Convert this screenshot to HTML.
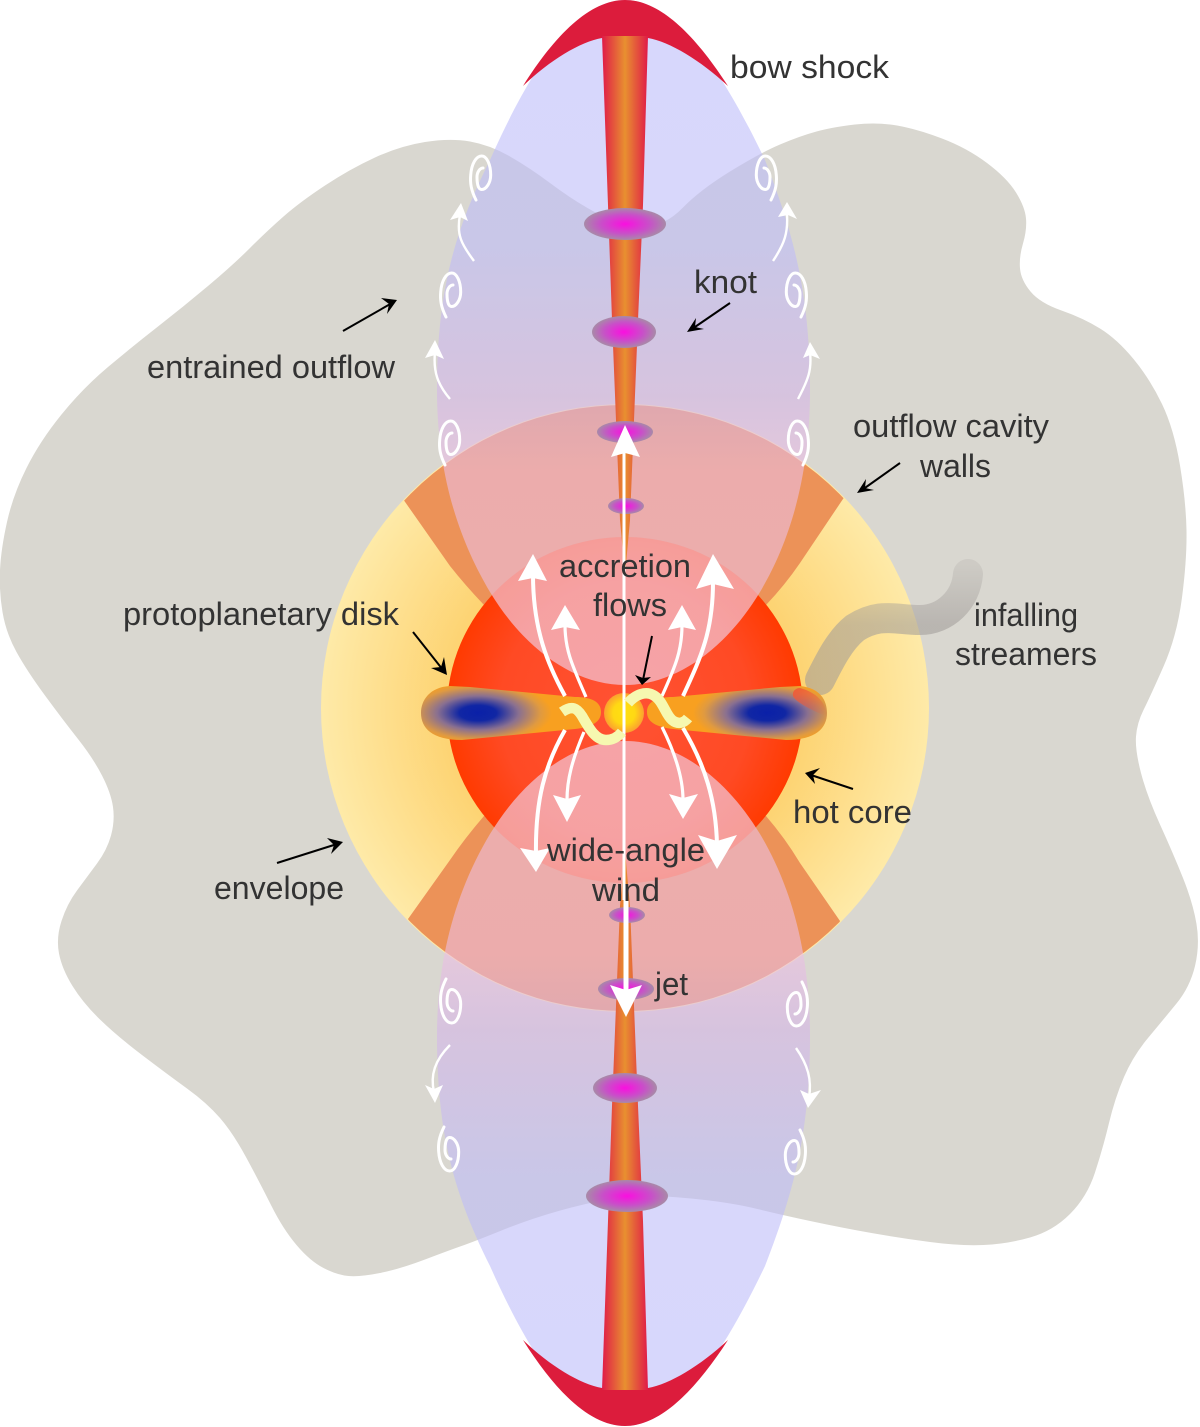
<!DOCTYPE html>
<html>
<head>
<meta charset="utf-8">
<style>
html,body{margin:0;padding:0;background:#fff;}
svg{display:block;}
text{font-family:"Liberation Sans",sans-serif;font-size:32px;fill:#333;}
</style>
</head>
<body>
<svg width="1200" height="1427" viewBox="0 0 1200 1427" xmlns="http://www.w3.org/2000/svg">
<defs>
  <radialGradient id="env" gradientUnits="userSpaceOnUse" cx="625" cy="708" r="304">
    <stop offset="0.5" stop-color="#fdcf68"/>
    <stop offset="1" stop-color="#feeaa8"/>
  </radialGradient>
  <radialGradient id="core" gradientUnits="userSpaceOnUse" cx="625" cy="710" r="178">
    <stop offset="0" stop-color="#ff5234"/>
    <stop offset="0.7" stop-color="#ff4a24"/>
    <stop offset="1" stop-color="#ff3a00"/>
  </radialGradient>
  <linearGradient id="lobe" gradientUnits="userSpaceOnUse" x1="0" y1="0" x2="0" y2="685">
    <stop offset="0" stop-color="rgb(188,188,250)"/>
    <stop offset="0.36" stop-color="rgb(190,188,248)"/>
    <stop offset="0.58" stop-color="rgb(213,182,232)"/>
    <stop offset="0.69" stop-color="rgb(236,190,228)"/>
    <stop offset="1" stop-color="rgb(236,192,228)"/>
  </linearGradient>
  <linearGradient id="jet" x1="0" y1="0" x2="1" y2="0">
    <stop offset="0" stop-color="#e01a48"/>
    <stop offset="0.5" stop-color="#e89030"/>
    <stop offset="1" stop-color="#e01a48"/>
  </linearGradient>
  <radialGradient id="knot">
    <stop offset="0" stop-color="#fa0fe0"/>
    <stop offset="0.6" stop-color="#c850c8"/>
    <stop offset="1" stop-color="#a88aa8"/>
  </radialGradient>
  <radialGradient id="diskL" gradientUnits="userSpaceOnUse" cx="0" cy="0" r="1" gradientTransform="translate(478 713) scale(74 31)">
    <stop offset="0" stop-color="#0a20a8"/>
    <stop offset="0.25" stop-color="#1026a4"/>
    <stop offset="0.55" stop-color="#8a7090"/>
    <stop offset="0.85" stop-color="#e09a40"/>
    <stop offset="1" stop-color="#f8a020"/>
  </radialGradient>
  <radialGradient id="diskR" gradientUnits="userSpaceOnUse" cx="0" cy="0" r="1" gradientTransform="translate(767 713) scale(74 31)">
    <stop offset="0" stop-color="#0a20a8"/>
    <stop offset="0.25" stop-color="#1026a4"/>
    <stop offset="0.55" stop-color="#8a7090"/>
    <stop offset="0.85" stop-color="#e09a40"/>
    <stop offset="1" stop-color="#f8a020"/>
  </radialGradient>
  <radialGradient id="star">
    <stop offset="0" stop-color="#ffe010"/>
    <stop offset="0.55" stop-color="#ffd814"/>
    <stop offset="1" stop-color="#fba030"/>
  </radialGradient>
  <linearGradient id="tip" x1="0" y1="0" x2="1" y2="1">
    <stop offset="0" stop-color="#f05a38"/>
    <stop offset="1" stop-color="#f05a38" stop-opacity="0"/>
  </linearGradient>
  <linearGradient id="stream" gradientUnits="userSpaceOnUse" x1="0" y1="565" x2="0" y2="625">
    <stop offset="0" stop-color="rgb(160,155,152)" stop-opacity="0.2"/>
    <stop offset="1" stop-color="rgb(160,155,152)" stop-opacity="0.56"/>
  </linearGradient>
  <clipPath id="envClip"><circle cx="625" cy="708" r="303"/></clipPath>
  <path id="lobeP" d="M625 0 C575 0 530 70 490 160 C455 230 437 290 437 390 C437 480 462 545 490 592 C525 650 575 685 625 685 C675 685 725 650 760 592 C788 545 810 480 810 390 C810 290 792 230 765 160 C722 70 675 0 625 0 Z"/>
  <clipPath id="lobeClip">
    <use href="#lobeP"/>
    <use href="#lobeP" transform="translate(0 1426) scale(1 -1)"/>
  </clipPath>
  <path id="shock" d="M523 86 C555 35 590 0 625 0 C660 0 695 35 728 86 C700 60 670 42 648 38 L602 38 C580 42 550 60 523 86 Z"/>
  <polygon id="jetP" points="602,36 648,36 643,205 638,320 634,420 630,520 625,575 620,520 616,420 612,320 608,205"/>
  <path id="sw" d="M6 45 C1 35 0 28 0.7 20 C1.5 9 6 1 11.7 1 C17 1 20.7 10 20.7 20 C20.7 28 16 34.5 11.7 34.5 C8 34.5 7 28 7 22 C7 17 10 13 13 13" fill="none" stroke="#fff" stroke-width="3" stroke-linecap="round"/>
</defs>

<!-- envelope -->
<path fill="#d9d7d0" d="M645 226 Q625 226 615 222 Q605 218 587.5 208 Q570 198 550 183 Q530 168 510 156.5 Q490 145 470 141.5 Q450 138 425 142 Q400 146 375 157.5 Q350 169 325 185.5 Q300 202 283.5 216.5 Q267 231 250 248 Q233 265 208 286 Q183 307 158 326.5 Q133 346 108 367 Q83 388 61.5 414.5 Q40 441 26.5 468 Q13 495 7 522 Q1 549 0 570 Q-1 591 2.5 612 Q6 633 16.5 652 Q27 671 45 695.5 Q63 720 78 739 Q93 758 102 775.5 Q111 793 113 807 Q115 821 111 835.5 Q107 850 97 863.5 Q87 877 77 890.5 Q67 904 61.5 921 Q56 938 59 953.5 Q62 969 72.5 986 Q83 1003 100 1019.5 Q117 1036 142 1055 Q167 1074 187 1088.5 Q207 1103 220 1118 Q233 1133 246.5 1158 Q260 1183 271.5 1206 Q283 1229 296.5 1245 Q310 1261 323.5 1268 Q337 1275 348.5 1276 Q360 1277 380 1273 Q400 1269 425 1259.5 Q450 1250 461.5 1246 Q473 1242 501.5 1230.5 Q530 1219 558.5 1211 Q587 1203 608.5 1199.5 Q630 1196 649 1196 Q668 1196 700.5 1199.5 Q733 1203 757.5 1209 Q782 1215 812.5 1221.5 Q843 1228 871.5 1233 Q900 1238 930 1242 Q960 1246 983.5 1245 Q1007 1244 1030 1237.5 Q1053 1231 1070 1214 Q1087 1197 1095 1172.5 Q1103 1148 1109 1123 Q1115 1098 1124 1077 Q1133 1056 1148 1038 Q1163 1020 1176.5 1003.5 Q1190 987 1195 966 Q1200 945 1196.5 924 Q1193 903 1183 878 Q1173 853 1160 824.5 Q1147 796 1141 773 Q1135 750 1136 736.5 Q1137 723 1143.5 710 Q1150 697 1163.5 666.5 Q1177 636 1182 597.5 Q1187 559 1186.5 530.5 Q1186 502 1180 465.5 Q1174 429 1162 404 Q1150 379 1133.5 359 Q1117 339 1100 328.5 Q1083 318 1061.5 310.5 Q1040 303 1030.5 291.5 Q1021 280 1020 268.5 Q1019 257 1023 243.5 Q1027 230 1026 218.5 Q1025 207 1016 192.5 Q1007 178 987 163 Q967 148 942 138.5 Q917 129 897 125.5 Q877 122 855 124.5 Q833 127 816.5 131.5 Q800 136 780 144.5 Q760 153 730 171.5 Q700 190 682.5 208 Q665 226 645 226 Z"/>

<circle cx="625" cy="708" r="304" fill="url(#env)"/>

<!-- orange cavity walls -->
<g clip-path="url(#envClip)" fill="#ec9258">
  <path d="M403 499 L450 566 Q465 585 484 605 L766 605 Q785 585 800 563 L845 496 L800 380 L450 380 Z"/>
  <path d="M408 919 L450 860 Q465 838 484 816 L766 816 Q785 838 800 863 L840 921 L800 1040 L450 1040 Z"/>
</g>

<!-- hot core -->
<ellipse cx="625" cy="710" rx="178" ry="173" fill="url(#core)"/>

<!-- streamer -->
<path d="M968 574 C966 600 945 620 920 620 C895 620 880 612 855 628 C840 640 830 660 820 680" fill="none" stroke="url(#stream)" stroke-width="30" stroke-linecap="round"/>

<!-- lobes -->
<use href="#lobeP" fill="url(#lobe)" fill-opacity="0.6"/>
<use href="#lobeP" fill="url(#lobe)" fill-opacity="0.6" transform="translate(0 1426) scale(1 -1)"/>
<g clip-path="url(#lobeClip)">
  <ellipse cx="625" cy="710" rx="178" ry="173" fill="#ffe8d0" fill-opacity="0.2"/>
</g>

<!-- bow shock -->
<use href="#shock" fill="#dc1c3c"/>
<use href="#shock" fill="#dc1c3c" transform="translate(0 1426) scale(1 -1)"/>

<!-- jets -->
<use href="#jetP" fill="url(#jet)"/>
<use href="#jetP" fill="url(#jet)" transform="translate(0 1426) scale(1 -1)"/>

<!-- knots -->
<ellipse cx="625" cy="224" rx="41" ry="16" fill="url(#knot)"/>
<ellipse cx="624" cy="332" rx="32" ry="16" fill="url(#knot)"/>
<ellipse cx="625" cy="432" rx="28" ry="11" fill="url(#knot)"/>
<ellipse cx="626" cy="506" rx="18" ry="8" fill="url(#knot)"/>
<ellipse cx="627" cy="915" rx="18" ry="8" fill="url(#knot)"/>
<ellipse cx="626" cy="989" rx="28" ry="11" fill="url(#knot)"/>
<ellipse cx="625" cy="1088" rx="32" ry="15" fill="url(#knot)"/>
<ellipse cx="627" cy="1196" rx="41" ry="16" fill="url(#knot)"/>

<!-- disk -->
<path fill="url(#diskL)" d="M450 686 C430 687 421 700 421 713 C421 728 432 740 462 740 L575 729 C592 727 601 722 601 712 C601 702 592 697 575 697 L470 687 Z"/>
<path fill="url(#diskR)" d="M800 686 C820 688 827 700 827 713 C827 728 816 740 786 740 L673 729 C656 727 647 722 647 712 C647 702 656 697 673 697 L780 687 Z"/>
<path fill="url(#tip)" d="M800 688 C815 692 827 702 826 716 C815 712 795 702 793 696 C792 691 796 688 800 688 Z"/>

<circle cx="624" cy="713" r="20" fill="url(#star)"/>

<!-- wind arrows -->
<g fill="none" stroke="#fff">
  <path stroke-width="4" d="M565 696 C548 665 533 630 533 575"/>
  <path stroke-width="3.2" d="M586 697 C572 665 565 650 565 625"/>
  <path stroke-width="3.2" d="M662 696 C676 665 682 650 682 625"/>
  <path stroke-width="4" d="M683 696 C702 655 713 630 713 582"/>
  <path stroke-width="4" d="M565 730 C545 765 535 800 536 855"/>
  <path stroke-width="3.2" d="M584 732 C572 760 567 780 567 800"/>
  <path stroke-width="3.2" d="M662 727 C676 755 683 780 683 800"/>
  <path stroke-width="4" d="M683 728 C705 765 716 800 717 845"/>
  <line stroke-width="3" x1="624" y1="450" x2="624" y2="900"/>
</g>
<line x1="626" y1="900" x2="626" y2="995" stroke="#fff" stroke-width="5"/>
<g fill="#fff">
  <polygon points="533,554 547,581 533,578 518,581"/>
  <polygon points="565,605 580,630 565,627 551,630"/>
  <polygon points="682,605 696,630 682,627 668,630"/>
  <polygon points="713,554 734,589 713,584 696,589"/>
  <polygon points="536,872 550,848 536,851 520,848"/>
  <polygon points="567,822 581,795 567,799 553,795"/>
  <polygon points="683,819 698,794 683,798 669,794"/>
  <polygon points="717,869 737,835 717,841 698,835"/>
  <polygon points="625,425 640,457 625,453 611,457"/>
  <polygon points="626,1017 642,985 626,990 610,985"/>
</g>

<!-- accretion squiggles -->
<g fill="none" stroke="#f6f8b0" stroke-width="10.5">
  <path d="M562 712 C572 705 577 708 582 716 C590 730 596 740 606 740 C612 740 618 737 622 732"/>
  <path d="M628 703 C636 694 646 691 653 695 C663 700 665 714 672 720 C678 725 684 723 688 718"/>
</g>

<!-- small swirls -->
<use href="#sw" transform="translate(470 155)"/>
<use href="#sw" transform="translate(440 272)"/>
<use href="#sw" transform="translate(439 420)"/>
<use href="#sw" transform="translate(777 155) scale(-1 1)"/>
<use href="#sw" transform="translate(807 272) scale(-1 1)"/>
<use href="#sw" transform="translate(809 420) scale(-1 1)"/>
<use href="#sw" transform="translate(440 1024) scale(1 -1)"/>
<use href="#sw" transform="translate(438 1172) scale(1 -1)"/>
<use href="#sw" transform="translate(808 1027) scale(-1 -1)"/>
<use href="#sw" transform="translate(806 1175) scale(-1 -1)"/>

<!-- small arrows -->
<g fill="none" stroke="#fff" stroke-width="2.4">
  <path d="M474 261 C462 245 456 235 460 215"/>
  <path d="M450 399 C438 385 433 372 435 352"/>
  <path d="M773 261 C785 243 788 232 787 215"/>
  <path d="M798 399 C808 380 812 370 810 352"/>
  <path d="M450 1045 C435 1060 430 1075 434 1092"/>
  <path d="M796 1048 C808 1065 812 1080 809 1098"/>
</g>
<g fill="#fff">
  <polygon points="461,203 468,221 460,217 450,220"/>
  <polygon points="435,340 444,359 435,355 425,358"/>
  <polygon points="787,202 797,219 788,215 778,217"/>
  <polygon points="810,342 820,359 810,355 803,358"/>
  <polygon points="435,1103 443,1085 434,1089 425,1085"/>
  <polygon points="808,1108 821,1090 809,1094 800,1090"/>
</g>

<!-- black arrows -->
<g stroke="#000" stroke-width="2" fill="none">
  <line x1="343" y1="331" x2="392" y2="303"/>
  <line x1="730" y1="303" x2="692" y2="329"/>
  <line x1="900" y1="463" x2="862" y2="490"/>
  <line x1="413" y1="632" x2="443" y2="670"/>
  <line x1="652" y1="636" x2="643" y2="680"/>
  <line x1="853" y1="789" x2="811" y2="775"/>
  <line x1="277" y1="863" x2="337" y2="844"/>
</g>
<g fill="#000">
  <polygon points="397,300 387,314 389,304 381,298"/>
  <polygon points="687,332 696,318 695,327 704,329"/>
  <polygon points="857,493 866,479 865,488 874,490"/>
  <polygon points="447,675 431,668 441,667 444,657"/>
  <polygon points="642,685 635,675 643,678 651,677"/>
  <polygon points="805,773 820,768 813,775 815,784"/>
  <polygon points="343,842 331,854 334,845 327,838"/>
</g>

<!-- labels -->
<text x="730" y="78" textLength="159" lengthAdjust="spacingAndGlyphs">bow shock</text>
<text x="694" y="293" textLength="63" lengthAdjust="spacingAndGlyphs">knot</text>
<text x="147" y="378" textLength="248" lengthAdjust="spacingAndGlyphs">entrained outflow</text>
<text x="853" y="437" textLength="196" lengthAdjust="spacingAndGlyphs">outflow cavity</text>
<text x="920" y="477" textLength="71" lengthAdjust="spacingAndGlyphs">walls</text>
<text x="559" y="577" textLength="132" lengthAdjust="spacingAndGlyphs">accretion</text>
<text x="593" y="616" textLength="74" lengthAdjust="spacingAndGlyphs">flows</text>
<text x="123" y="625" textLength="276" lengthAdjust="spacingAndGlyphs">protoplanetary disk</text>
<text x="974" y="626" textLength="104" lengthAdjust="spacingAndGlyphs">infalling</text>
<text x="955" y="665" textLength="142" lengthAdjust="spacingAndGlyphs">streamers</text>
<text x="793" y="823" textLength="119" lengthAdjust="spacingAndGlyphs">hot core</text>
<text x="547" y="861" textLength="158" lengthAdjust="spacingAndGlyphs">wide-angle</text>
<text x="592" y="901" textLength="68" lengthAdjust="spacingAndGlyphs">wind</text>
<text x="214" y="899" textLength="130" lengthAdjust="spacingAndGlyphs">envelope</text>
<text x="655" y="995" textLength="33" lengthAdjust="spacingAndGlyphs">jet</text>
</svg>
</body>
</html>
